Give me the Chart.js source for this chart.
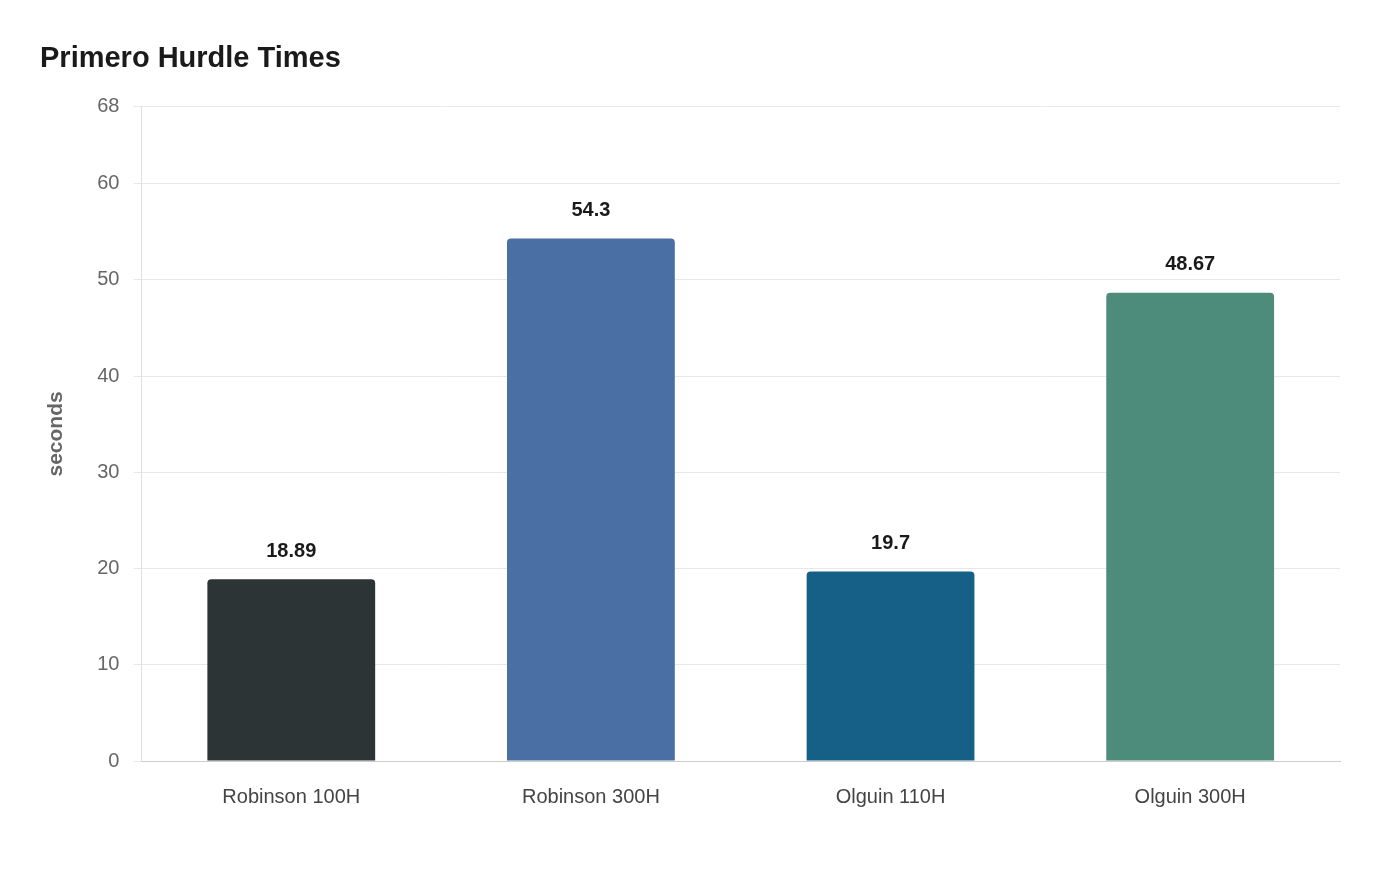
<!DOCTYPE html>
<html>
<head>
<meta charset="utf-8">
<script src="https://cdn.jsdelivr.net/npm/chart.js@4"></script>
<style>
  html, body { margin: 0; padding: 0; background: #fff; }
  #wrap { width: 1400px; height: 880px; position: relative; }
</style>
</head>
<body>
<div id="wrap"><canvas id="c" width="1400" height="880"></canvas></div>
<script>
const labels = ["Robinson 100H", "Robinson 300H", "Olguin 110H", "Olguin 300H"];
const times = [18.89, 54.3, 19.7, 48.67];
const colors = ["#2d3436", "#4a6fa5", "#166088", "#4d8b7a"];

const valueLabels = {
  id: "valueLabels",
  afterDatasetsDraw(chart) {
    const ctx = chart.ctx;
    const meta = chart.getDatasetMeta(0);
    ctx.save();
    ctx.font = "bold 20px 'Liberation Sans', Arial, sans-serif";
    ctx.fillStyle = "#1a1a1a";
    ctx.textAlign = "center";
    ctx.textBaseline = "bottom";
    meta.data.forEach((bar, i) => ctx.fillText(String(times[i]), bar.x, bar.y - 18));
    ctx.restore();
  },
};

Chart.defaults.font.family = "'Liberation Sans', Arial, sans-serif";

new Chart(document.getElementById("c"), {
  type: "bar",
  data: {
    labels,
    datasets: [{ data: times, backgroundColor: colors, borderRadius: { topLeft: 4, topRight: 4 }, borderSkipped: "bottom",
      barPercentage: 0.56, categoryPercentage: 1 }],
  },
  options: {
    responsive: false,
    animation: false,
    layout: { padding: { left: 40, right: 60, top: 20, bottom: 55 } },
    plugins: {
      legend: { display: false },
      tooltip: { enabled: false },
      title: {
        display: true, text: "Primero Hurdle Times", align: "start",
        color: "#1a1a1a", font: { size: 29, weight: "bold" }, padding: { top: 22, bottom: 30 },
      },
    },
    scales: {
      x: {
        grid: { display: false },
        border: { color: "#cccccc" },
        ticks: { color: "#444", font: { size: 20 }, padding: 16 },
      },
      y: {
        min: 0, max: 68,
        ticks: { stepSize: 10, color: "#666", font: { size: 20 }, padding: 14 },
        grid: { color: "#e8e8e8", drawTicks: true, tickLength: 8 },
        border: { display: true, color: "#e0e0e0" },
        title: { display: true, text: "seconds", color: "#666", font: { size: 21, weight: "bold" }, padding: { bottom: 14 } },
      },
    },
  },
  plugins: [valueLabels],
});
</script>
</body>
</html>
